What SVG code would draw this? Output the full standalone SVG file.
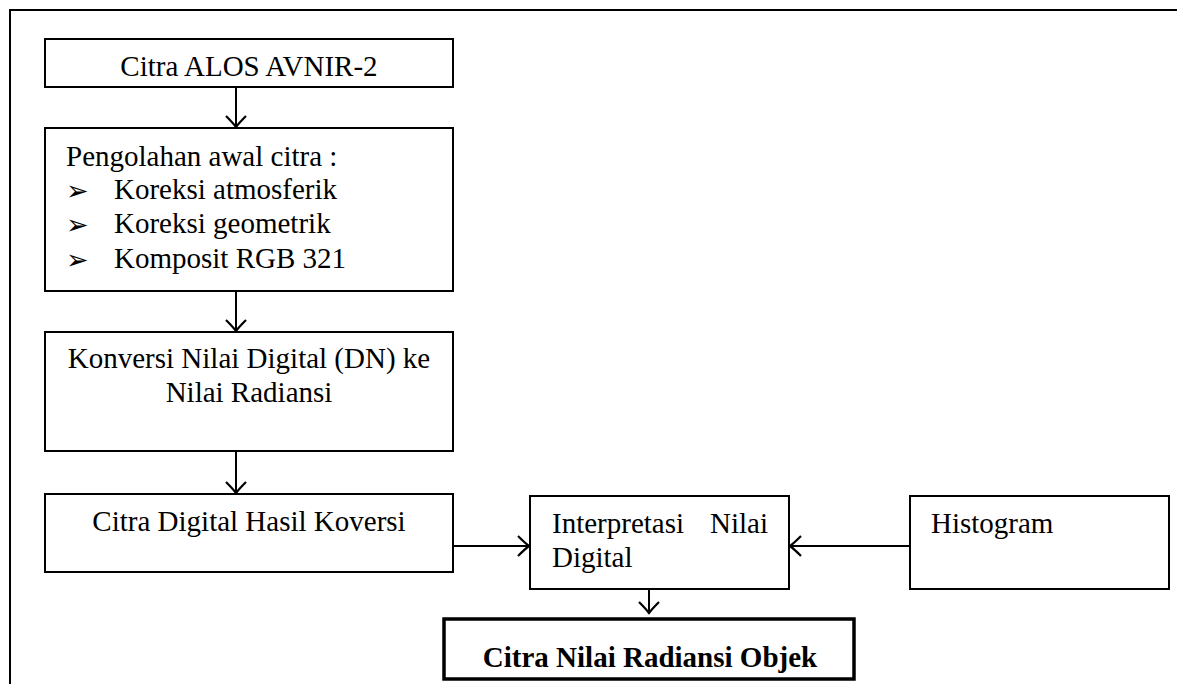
<svg xmlns="http://www.w3.org/2000/svg" width="1177" height="684" viewBox="0 0 1177 684">
<style>
.box{fill:#fff;stroke:#000;stroke-width:2}
.bold{fill:#fff;stroke:#000;stroke-width:3.5}
.t{font-family:"Liberation Serif","Times New Roman",serif;font-size:29px;fill:#000}
.c{text-anchor:middle}
.b{font-weight:bold}
.bul{font-family:"DejaVu Sans",sans-serif;font-size:27px;fill:#000}
.ln{fill:none;stroke:#000;stroke-width:2}
</style>
<defs>
<marker id="ah" markerUnits="userSpaceOnUse" markerWidth="24" markerHeight="24" viewBox="-12 -12 24 24" refX="0" refY="0" orient="auto">
<path d="M-11,-10 Q-4,-3 0,0 Q-4,3 -11,10" fill="none" stroke="#000" stroke-width="2.2"/>
</marker>
</defs>
<rect width="1177" height="684" fill="#fff"/>
<g id="frame">
<path d="M1177,10 H10 V684" fill="none" stroke="#000" stroke-width="2"/>
</g>
<g id="connectors">
<line class="ln" x1="236" y1="87" x2="236" y2="127" marker-end="url(#ah)"/>
<line class="ln" x1="236" y1="291" x2="236" y2="331" marker-end="url(#ah)"/>
<line class="ln" x1="236" y1="451" x2="236" y2="493" marker-end="url(#ah)"/>
<line class="ln" x1="453" y1="546" x2="529" y2="546" marker-end="url(#ah)"/>
<line class="ln" x1="910" y1="546" x2="790" y2="546" marker-end="url(#ah)"/>
<line class="ln" x1="649" y1="589" x2="649" y2="613" marker-end="url(#ah)"/>
</g>
<g id="n1">
<rect class="box" x="45" y="39" width="408" height="48"/>
<text class="t c" x="249" y="76">Citra ALOS AVNIR-2</text>
</g>
<g id="n2">
<rect class="box" x="45" y="128" width="408" height="163"/>
<text class="t" x="66" y="166">Pengolahan awal citra :</text>
<text class="bul" x="66" y="200">➢</text>
<text class="t" x="114" y="199">Koreksi atmosferik</text>
<text class="bul" x="66" y="234">➢</text>
<text class="t" x="114" y="233">Koreksi geometrik</text>
<text class="bul" x="66" y="269">➢</text>
<text class="t" x="114" y="268">Komposit RGB 321</text>
</g>
<g id="n3">
<rect class="box" x="45" y="332" width="408" height="119"/>
<text class="t c" x="249" y="368">Konversi Nilai Digital (DN) ke</text>
<text class="t c" x="249" y="402">Nilai Radiansi</text>
</g>
<g id="n4">
<rect class="box" x="45" y="494" width="408" height="78"/>
<text class="t c" x="249" y="531">Citra Digital Hasil Koversi</text>
</g>
<g id="n5">
<rect class="box" x="530" y="496" width="259" height="93"/>
<text class="t" x="552" y="533">Interpretasi</text>
<text class="t" x="768" y="533" text-anchor="end">Nilai</text>
<text class="t" x="552" y="567">Digital</text>
</g>
<g id="n6">
<rect class="box" x="910" y="496" width="259" height="93"/>
<text class="t" x="931" y="533">Histogram</text>
</g>
<g id="n7">
<rect class="bold" x="444" y="619" width="410" height="60"/>
<text class="t c b" x="650" y="667">Citra Nilai Radiansi Objek</text>
</g>
</svg>
